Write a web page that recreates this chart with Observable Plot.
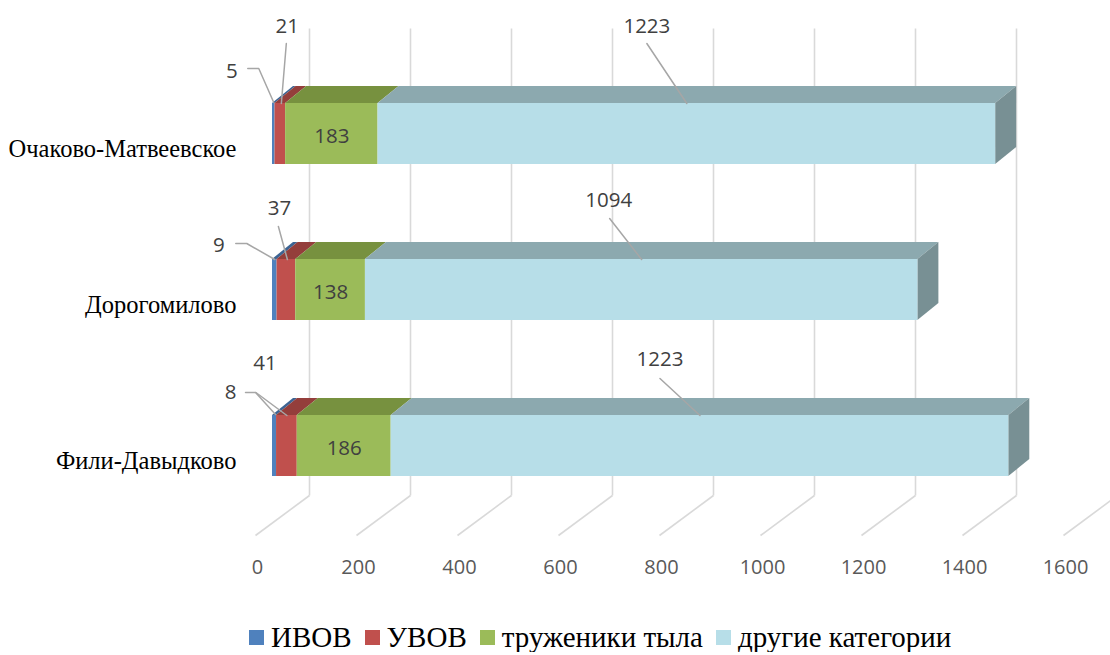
<!DOCTYPE html>
<html><head><meta charset="utf-8">
<script src="https://cdn.jsdelivr.net/npm/d3@7"></script>
<script src="https://cdn.jsdelivr.net/npm/@observablehq/plot@0.6"></script>
<style>
html,body{margin:0;background:#fff;overflow:hidden;}
#legend{display:flex;align-items:center;padding-left:249px;margin-top:18px;height:29px;font-size:29px;color:#000;}
#legend .sw{width:15px;height:15px;margin-right:7px;flex:none}
#legend .lb{margin-right:13px;line-height:29px;white-space:nowrap}
</style></head><body>
<div id="chart"></div>
<div id="legend"></div>
<script>
// ---- data ----
const categories = ["Очаково-Матвеевское", "Дорогомилово", "Фили-Давыдково"];
const seriesNames = ["ИВОВ", "УВОВ", "труженики тыла", "другие категории"];
const ivov = [5, 9, 8];
const uvov = [21, 37, 41];
const truzheniki = [183, 138, 186];
const drugie = [1223, 1094, 1223];
const xTicks = [0, 200, 400, 600, 800, 1000, 1200, 1400, 1600];

// ---- styles ----
const frontColors = ["#4F81BD", "#C0504D", "#9BBB59", "#B7DEE8"];
const topColors = ["#3D6493", "#943E3B", "#77913F", "#8CA9AF"];
const sideColor = "#789094";
const gridColor = "#D9D9D9";
const leaderColor = "#A6A6A6";
const labelFont = "'Open Sans', 'Liberation Sans', sans-serif";
const serifFont = "'Liberation Serif', 'Times New Roman', serif";

// ---- geometry (pixel sizes converted into scale units) ----
const pxPerUnit = 0.505;      // horizontal px per value unit
const pxPerCat = 156;         // vertical px per category step
const ux = px => px / pxPerUnit;
const uy = px => px / pxPerCat;
const halfH = uy(30.5);       // half height of front face
const depthX = ux(21), depthY = uy(17);   // bar depth
const floorFrontX = ux(-17), floorBackX = ux(37);
const floorFrontY = 2 + uy(89.5), floorBackY = 2 + uy(49.5), gridTopY = uy(-105.5);

// outside data label placement: pixel offsets from top-front edge midpoint of segment
const labelPlacement = {
  "0-0": {label: [-42, -32], leader: [[-26, -35], [-15, -35], [0, -1]]},
  "0-1": {label: [7, -77], leader: [[6, -60], [1, 0]]},
  "0-3": {label: [-40, -77], leader: [[-40, -60], [0, 0]]},
  "1-0": {label: [-56, -14], leader: [[-39, -16], [-28, -16], [0, 0]]},
  "1-1": {label: [-7, -51], leader: [[-8, -33], [1, 0]]},
  "1-3": {label: [-33, -59], leader: [[-32, -41], [0, 0]]},
  "2-0": {label: [-44, -23], leader: [[-29, -23], [-19, -23], [1, -1]]},
  "2-1": {label: [-22, -52], leader: [[-31, -23], [0, 0]]},
  "2-3": {label: [-40, -56], leader: [[-40, -37], [0, 0]]}
};

// ---- build segments ----
const seriesValues = [ivov, uvov, truzheniki, drugie];
const segs = [];
categories.forEach((c, i) => {
  let acc = 0;
  seriesValues.forEach((vals, k) => {
    const v = vals[i];
    segs.push({i, k, id: i + "-" + k, v, x1: acc, x2: acc + v, mid: acc + v / 2});
    acc += v;
  });
});

const topPts = segs.flatMap(s => [
  {id: s.id, k: s.k, y: s.i - halfH, x1: s.x1, x2: s.x2},
  {id: s.id, k: s.k, y: s.i - halfH - depthY, x1: s.x1 + depthX, x2: s.x2 + depthX}
]);
const lastSegs = segs.filter(s => s.k === 3);
const sidePts = lastSegs.flatMap(s => [
  {id: s.id, x: s.x2, y1: s.i + halfH, y2: s.i - halfH},
  {id: s.id, x: s.x2 + depthX, y1: s.i + halfH - depthY, y2: s.i - halfH - depthY}
]);

const outside = segs.filter(s => labelPlacement[s.id]).map(s => {
  const p = labelPlacement[s.id];
  const ay = s.i - halfH;
  return {
    id: s.id, v: s.v,
    lx: s.mid + ux(p.label[0]), ly: ay + uy(p.label[1]),
    leader: p.leader.map(([dx, dy]) => ({id: s.id, x: s.mid + ux(dx), y: ay + uy(dy)}))
  };
});
const leaderPts = outside.flatMap(o => o.leader);
const inside = segs.filter(s => s.k === 2);

const marks = [
  // floor lines and back-wall gridlines
  Plot.link(xTicks, {x1: v => v + floorFrontX, y1: () => floorFrontY, x2: v => v + floorBackX, y2: () => floorBackY, stroke: gridColor, strokeWidth: 1.6}),
  Plot.link(xTicks, {x1: v => v + floorBackX, y1: () => floorBackY, x2: v => v + floorBackX, y2: () => gridTopY, stroke: gridColor, strokeWidth: 1.6}),
];
for (let k = 0; k < 4; k++) {
  marks.push(Plot.areaX(topPts.filter(d => d.k === k), {y: "y", x1: "x1", x2: "x2", z: "id", fill: topColors[k]}));
}
marks.push(Plot.areaY(sidePts, {x: "x", y1: "y1", y2: "y2", z: "id", fill: sideColor}));
for (let k = 0; k < 4; k++) {
  marks.push(Plot.rect(segs.filter(d => d.k === k), {x1: "x1", x2: "x2", y1: d => d.i - halfH, y2: d => d.i + halfH, fill: frontColors[k]}));
}
marks.push(
  Plot.line(leaderPts, {x: "x", y: "y", z: "id", stroke: leaderColor, strokeWidth: 1.5}),
  Plot.text(outside, {x: "lx", y: "ly", text: d => String(d.v), fill: "#404040", fontSize: 20.5, fontFamily: labelFont}),
  Plot.text(inside, {x: "mid", y: "i", text: d => String(d.v), fill: "#404040", fontSize: 20.5, fontFamily: labelFont, dy: 2}),
  // x tick labels
  Plot.text(xTicks, {x: d => d, frameAnchor: "bottom", lineAnchor: "top", dx: -15, text: d => String(d), fill: "#595959", fontSize: 20, fontFamily: labelFont}),
  // category labels
  Plot.text(categories, {y: (d, i) => i, frameAnchor: "left", textAnchor: "end", dy: 15.5, text: d => d, fill: "#000", fontSize: 24.5, fontFamily: serifFont})
);

const chart = Plot.plot({
  width: 1110,
  height: 605,
  marginLeft: 236,
  marginRight: 0,
  marginTop: 0,
  marginBottom: 46,
  x: {domain: [0, 1600], range: [272, 272 + 1600 * pxPerUnit], axis: null},
  y: {domain: [0, 2], range: [133.5, 133.5 + 2 * pxPerCat], axis: null},
  style: {background: "#fff", overflow: "hidden"},
  marks
});
document.getElementById("chart").appendChild(chart);

const legend = document.getElementById("legend");
legend.style.fontFamily = serifFont;
seriesNames.forEach((n, k) => {
  const sw = document.createElement("span");
  sw.className = "sw";
  sw.style.background = frontColors[k];
  const lb = document.createElement("span");
  lb.className = "lb";
  lb.style.fontFamily = serifFont;
  lb.textContent = n;
  legend.appendChild(sw);
  legend.appendChild(lb);
});
</script>
</body></html>
